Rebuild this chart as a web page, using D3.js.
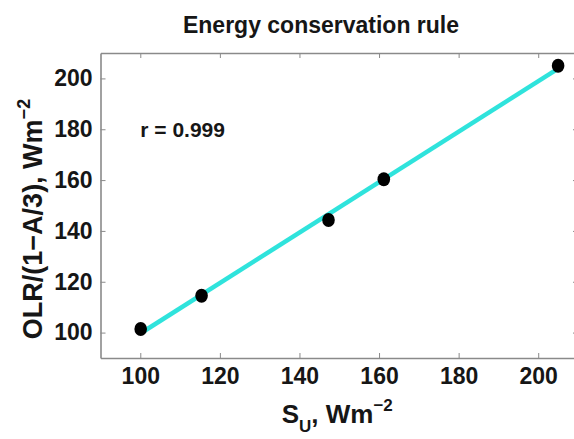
<!DOCTYPE html>
<html>
<head>
<meta charset="utf-8">
<script src="https://cdn.jsdelivr.net/npm/d3@7"></script>
<style>
  html, body { margin: 0; padding: 0; background: #fff; }
  svg text { font-family: "Liberation Sans", Arial, sans-serif; font-weight: bold; fill: #161616; }
</style>
</head>
<body>
<svg id="chart" width="574" height="439"></svg>
<script>
// ---- data ----
const suValues  = [100.1, 115.4, 147.3, 161.2, 205.0];   // S_U, W m^-2
const olrValues = [101.4, 114.5, 144.3, 160.3, 205.0];   // OLR/(1-A/3), W m^-2
const xTicks = [100, 120, 140, 160, 180, 200];
const yTicks = [100, 120, 140, 160, 180, 200];
const xDomain = [90, 210];
const yDomain = [90, 210];
const titleText = "Energy conservation rule";
const corrText = "r = 0.999";
const corrPos = [100, 180];

(function () {
const svg = d3.select("#chart");
const mLeft = 100.5, mRight = 578, mTop = 53, mBottom = 358;

const x = d3.scaleLinear().domain(xDomain).range([mLeft, mRight]);
const y = d3.scaleLinear().domain(yDomain).range([mBottom, mTop]);

// least-squares fit line through the points
const mx = d3.mean(suValues), my = d3.mean(olrValues);
let sxy = 0, sxx = 0;
suValues.forEach((v, i) => { sxy += (v - mx) * (olrValues[i] - my); sxx += (v - mx) * (v - mx); });
const slope = sxy / sxx, icpt = my - slope * mx;
const x0 = d3.min(suValues), x1 = d3.max(suValues);

// axes (box with inward ticks)
const axisColor = "#8a8a8a";
const tickLen = 5;
const g = svg.append("g");

const bottomAxis = d3.axisBottom(x).tickValues(xTicks).tickSize(-tickLen).tickPadding(10).tickSizeOuter(0);
const topAxis = d3.axisTop(x).tickValues(xTicks).tickSize(-tickLen).tickFormat("").tickSizeOuter(0);
const leftAxis = d3.axisLeft(y).tickValues(yTicks).tickSize(-tickLen).tickPadding(8).tickSizeOuter(0);
const rightAxis = d3.axisRight(y).tickValues(yTicks).tickSize(-tickLen).tickFormat("").tickSizeOuter(0);

function styleAxis(sel) {
  sel.selectAll(".domain").attr("stroke", axisColor).attr("stroke-width", 1.6);
  sel.selectAll(".tick line").attr("stroke", axisColor).attr("stroke-width", 1);
  sel.selectAll(".tick text").attr("font-size", 23).attr("font-family", "Liberation Sans, Arial, sans-serif")
     .attr("font-weight", "bold").attr("fill", "#161616");
}
g.append("g").attr("transform", `translate(0,${mBottom})`).call(bottomAxis).call(styleAxis);
g.append("g").attr("transform", `translate(0,${mTop})`).call(topAxis).call(styleAxis);
g.append("g").attr("transform", `translate(${mLeft},0)`).call(leftAxis).call(styleAxis);
g.append("g").attr("transform", `translate(${mRight},0)`).call(rightAxis).call(styleAxis);

// fit line
svg.append("line")
  .attr("x1", x(x0)).attr("y1", y(slope * x0 + icpt))
  .attr("x2", x(x1)).attr("y2", y(slope * x1 + icpt))
  .attr("stroke", "#2fe3dc").attr("stroke-width", 4.5).attr("stroke-linecap", "butt");

// points
svg.append("g").selectAll("ellipse").data(suValues).join("ellipse")
  .attr("cx", d => x(d)).attr("cy", (d, i) => y(olrValues[i]))
  .attr("rx", 6.3).attr("ry", 7).attr("fill", "#000");

// correlation text
svg.append("text").attr("x", x(corrPos[0])).attr("y", y(corrPos[1]))
  .attr("dy", "0.35em").attr("font-size", 21).text(corrText);

// title
svg.append("text").attr("x", 321).attr("y", 33).attr("text-anchor", "middle")
  .attr("font-size", 23).text(titleText);

// x label
const xl = svg.append("text").attr("x", (mLeft + 574) / 2).attr("y", 423).attr("text-anchor", "middle").attr("font-size", 26);
xl.append("tspan").text("S");
xl.append("tspan").attr("font-size", 17).attr("dy", 9).text("U");
xl.append("tspan").attr("dy", -9).text(", Wm");
xl.append("tspan").attr("font-size", 17).attr("dy", -12).text("\u22122");

// y label
const yl = svg.append("text").attr("transform", `translate(42,219) rotate(-90)`)
  .attr("text-anchor", "middle").attr("font-size", 27);
yl.append("tspan").text("OLR/(1\u2212A/3), Wm");
yl.append("tspan").attr("font-size", 18).attr("dy", -12).text("\u22122");
})();
</script>
</body>
</html>
